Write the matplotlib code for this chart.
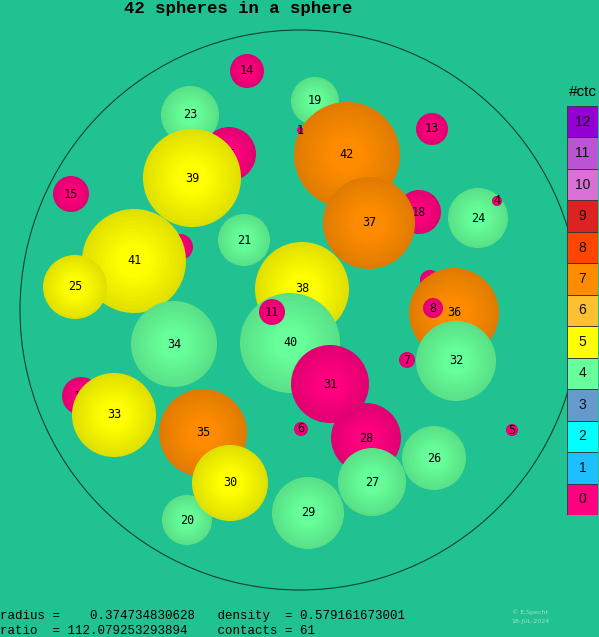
import numpy as np
import matplotlib.pyplot as plt
from matplotlib.patches import Circle
from matplotlib.colors import to_rgb

# sphere data in picture coordinates (x, y down), back to front
labels = ['16', '23', '39', '14', '', '41', '25', '15', '19', '42', '1', '13',
          '18', '37', '38', '24', '4', '21', '9', '36', '8', '34', '40', '11',
          '7', '32', '28', '31', '12', '33', '35', '6', '5', '26', '20', '30',
          '29', '27']
cx = [229, 190, 192, 247, 180, 134, 75, 71, 315, 347, 300, 432,
      419, 369, 302, 478, 497, 244, 430, 454, 433, 174, 290, 272,
      407, 456, 366, 330, 81, 114, 203, 301, 512, 434, 187, 230,
      308, 372]
cy = [154, 115, 178, 71, 247, 261, 287, 194, 101, 155, 130, 129,
      212, 223, 289, 218, 201, 240, 280, 313, 308, 344, 343, 312,
      360, 361, 438, 384, 396, 415, 433, 429, 430, 458, 520, 483,
      513, 482]
rad = [27, 29, 49, 17, 13, 52, 32, 18, 24, 53, 3, 16,
       22, 46, 47, 30, 5, 26, 10, 45, 10, 43, 50, 13,
       8, 40, 35, 39, 19, 42, 44, 7, 6, 32, 25, 38,
       36, 34]
ctc = [0, 4, 5, 0, 0, 5, 5, 0, 4, 7, 0, 0,
       0, 7, 5, 4, 0, 4, 0, 7, 0, 4, 4, 0,
       0, 4, 0, 0, 0, 5, 7, 0, 0, 4, 4, 5,
       4, 4]

ctc_colors = ['#ff0080', '#1ebfff', '#00ffff', '#6699cc', '#66ff99', '#ffff00',
              '#fdc030', '#ff8c00', '#ff4500', '#dd2222', '#da70d6', '#ba55d3',
              '#9400d3']
ctc_ticks = [str(i) for i in range(13)]

bg = '#21c292'
fig = plt.figure(figsize=(5.99, 6.37), dpi=100, facecolor=bg)
ax = fig.add_axes([0, 0, 1, 1])
ax.set_xlim(0, 599)
ax.set_ylim(637, 0)
ax.set_aspect('equal')
ax.axis('off')
ax.set_facecolor(bg)

ax.add_patch(Circle((300, 310), 280, fill=False, ec='#104030', lw=0.8, zorder=0))

for i in range(len(labels)):
    base = np.array(to_rgb(ctc_colors[ctc[i]]))
    n = 10
    for k in range(n):
        f = 0.88 + 0.12 * k / (n - 1)
        r = rad[i] * (1 - 0.75 * k / n)
        ax.add_patch(Circle((cx[i], cy[i]), r, fc=np.clip(base * f, 0, 1),
                            ec='none', zorder=1 + i + k * 0.01))
    ax.text(cx[i], cy[i], labels[i], ha='center', va='center', fontsize=8.5,
            family='DejaVu Sans Mono', color='black', zorder=1 + i + 0.5)

fig.text(238 / 599, 1 - 8 / 637, '42 spheres in a sphere', ha='center', va='center',
         fontsize=12.5, family='Liberation Mono', weight='bold')
fig.text(0, 1 - 616 / 637, 'radius =    0.374734830628   density  = 0.579161673001',
         ha='left', va='center', fontsize=9, family='Liberation Mono')
fig.text(0, 1 - 631 / 637, 'ratio  = 112.079253293894    contacts = 61',
         ha='left', va='center', fontsize=9, family='Liberation Mono')
fig.text(530 / 599, 1 - 612 / 637, '© E.Specht', ha='center', va='center',
         fontsize=4.5, color='#a0e0c8')
fig.text(530 / 599, 1 - 622 / 637, '18-JUL-2024', ha='center', va='center',
         fontsize=4.5, color='#a0e0c8')

# colour key
cax = fig.add_axes([567 / 599, 1 - 515 / 637, 31 / 599, 409 / 637])
cax.set_xlim(0, 1)
cax.set_ylim(0, 13)
cax.axis('off')
for v in range(13):
    cax.add_patch(plt.Rectangle((0, v), 1, 1, fc=ctc_colors[v], ec='#333333', lw=0.6))
    cax.text(0.5, v + 0.5, ctc_ticks[v], ha='center', va='center', fontsize=10,
             family='Liberation Sans', color='#111111')
fig.text(583 / 599, 1 - 92 / 637, '#ctc', ha='center', va='center', fontsize=11,
         family='Liberation Sans')

fig.savefig('out.png', dpi=100, facecolor=bg)
